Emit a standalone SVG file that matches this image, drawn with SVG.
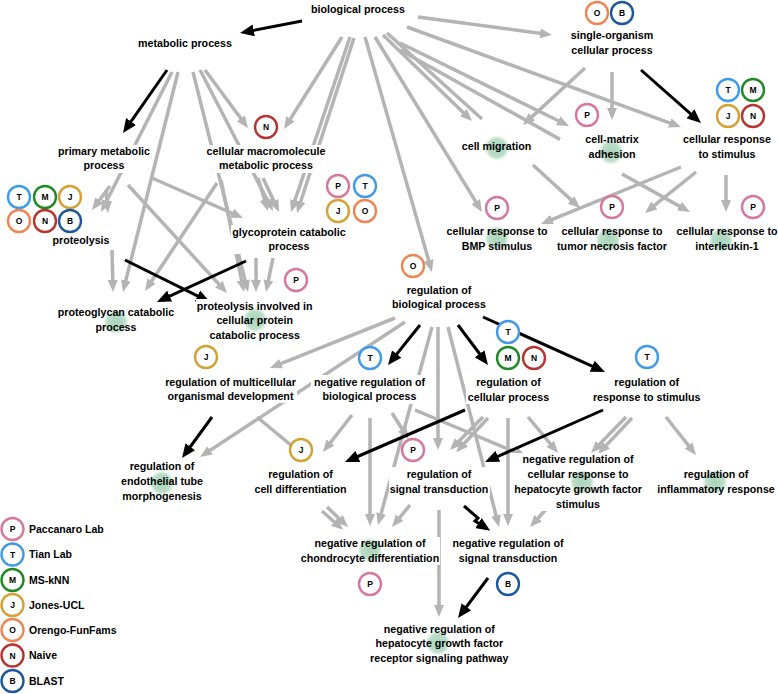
<svg xmlns="http://www.w3.org/2000/svg" width="778" height="694" viewBox="0 0 778 694">
<style>
.lbl{font-family:"Liberation Sans",Arial,sans-serif;font-weight:bold;font-size:10.7px;text-anchor:middle;fill:#000}
.leg{font-family:"Liberation Sans",Arial,sans-serif;font-weight:bold;font-size:10.5px;fill:#000}
.bg{fill:#fff}
.g{stroke:#b4b4b4;stroke-width:3.5;fill:none;marker-end:url(#ag)}
.gn{stroke:#b4b4b4;stroke-width:3.5;fill:none}
.k{stroke:#000;stroke-width:3;fill:none;marker-end:url(#ak)}
.c{fill:#fff;stroke-width:2.4}
.cl{font-family:"Liberation Sans",Arial,sans-serif;font-weight:bold;font-size:8.5px;text-anchor:middle;fill:#000}
.P{stroke:#d6779b}.T{stroke:#3d9be9}.M{stroke:#1f8a24}.J{stroke:#d6a032}.O{stroke:#ef8552}.N{stroke:#b8332f}.B{stroke:#1c569f}
.blob{fill:url(#gr)}
</style>
<defs>
<marker id="ag" viewBox="0 0 12 10" markerWidth="12" markerHeight="10" refX="7" refY="5" orient="auto" markerUnits="userSpaceOnUse"><path d="M0,0 L12,5 L0,10 z" fill="#b4b4b4"/></marker>
<marker id="ak" viewBox="0 0 14 12" markerWidth="14" markerHeight="12" refX="9" refY="6" orient="auto" markerUnits="userSpaceOnUse"><path d="M0,0 L14,6 L0,12 z" fill="#000"/></marker>
<radialGradient id="gr"><stop offset="0" stop-color="#a8d4ba" stop-opacity="1"/><stop offset="0.7" stop-color="#b4dac3" stop-opacity="0.9"/><stop offset="1" stop-color="#cde6d6" stop-opacity="0"/></radialGradient>
</defs>
<rect width="778" height="694" fill="#fff"/>
<g id="edges">
<line class="k" x1="302" y1="21" x2="244.9" y2="32.1"/>
<line class="g" x1="418" y1="17" x2="547" y2="34.3"/>
<line class="g" x1="342" y1="37" x2="286.7" y2="124.8"/>
<line class="g" x1="350" y1="37" x2="292.6" y2="207.3"/>
<line class="g" x1="354" y1="38" x2="298.5" y2="208.2"/>
<line class="g" x1="365" y1="37" x2="430.6" y2="267.2"/>
<line class="g" x1="375" y1="37" x2="479.4" y2="207.7"/>
<line class="g" x1="383" y1="35" x2="468.4" y2="117.5"/>
<line class="gn" x1="387" y1="33" x2="482" y2="119"/>
<line class="g" x1="533" y1="165" x2="576.3" y2="204.6"/>
<line class="g" x1="400" y1="43" x2="564.5" y2="123.8"/>
<line class="gn" x1="400" y1="50" x2="560" y2="139.4"/>
<line class="g" x1="622" y1="174" x2="685.6" y2="209.6"/>
<line class="g" x1="407" y1="27" x2="676.3" y2="125.3"/>
<line class="g" x1="585" y1="68" x2="526.7" y2="121.6"/>
<line class="g" x1="612" y1="72" x2="612" y2="115"/>
<line class="k" x1="641" y1="70" x2="697.2" y2="119.7"/>
<line class="g" x1="681" y1="167" x2="545.6" y2="222.1"/>
<line class="g" x1="696" y1="172" x2="648.9" y2="209.9"/>
<line class="g" x1="726" y1="175" x2="726" y2="207"/>
<line class="k" x1="167" y1="70" x2="125.9" y2="128.9"/>
<line class="g" x1="172" y1="72" x2="103.3" y2="207.5"/>
<line class="g" x1="178" y1="72" x2="124.2" y2="287.2"/>
<line class="g" x1="193" y1="72" x2="246.8" y2="287.2"/>
<line class="g" x1="200" y1="70" x2="270.7" y2="206.6"/>
<line class="g" x1="205" y1="70" x2="245" y2="124"/>
<line class="g" x1="128" y1="185" x2="223.6" y2="289.3"/>
<line class="g" x1="152" y1="178" x2="238.4" y2="216"/>
<line class="g" x1="217" y1="183" x2="147.8" y2="286.8"/>
<line class="g" x1="221" y1="180" x2="243" y2="287.1"/>
<line class="g" x1="258" y1="178" x2="266.5" y2="206.2"/>
<line class="g" x1="263" y1="178" x2="276.9" y2="207.5"/>
<line class="g" x1="110" y1="186" x2="95" y2="206"/>
<line class="g" x1="106" y1="190" x2="107.6" y2="208"/>
<line class="g" x1="256" y1="258" x2="256" y2="287"/>
<line class="g" x1="273" y1="258" x2="267" y2="287.1"/>
<line class="g" x1="112" y1="250" x2="112.9" y2="287"/>
<line class="k" x1="125" y1="260" x2="205.5" y2="299.8"/>
<line class="k" x1="246" y1="261" x2="161.5" y2="299.9"/>
<line class="g" x1="395" y1="318" x2="274.6" y2="366.1"/>
<line class="g" x1="405" y1="322" x2="204.2" y2="454.3"/>
<line class="k" x1="420" y1="325" x2="391.1" y2="361.1"/>
<line class="g" x1="432" y1="327" x2="379.3" y2="520.2"/>
<line class="g" x1="438" y1="327" x2="438" y2="445"/>
<line class="g" x1="448" y1="327" x2="497.8" y2="522.2"/>
<line class="k" x1="458" y1="325" x2="485" y2="361"/>
<line class="k" x1="483" y1="317" x2="600.4" y2="369.9"/>
<line class="g" x1="352" y1="415" x2="326.1" y2="448.1"/>
<line class="g" x1="370" y1="418" x2="370" y2="521"/>
<line class="g" x1="392" y1="413" x2="406" y2="435"/>
<line class="g" x1="415" y1="410" x2="522.4" y2="455.1"/>
<line class="k" x1="465" y1="410" x2="349.6" y2="460"/>
<line class="g" x1="483" y1="417" x2="453.5" y2="446.5"/>
<line class="g" x1="488" y1="418" x2="459.6" y2="448.5"/>
<line class="g" x1="508" y1="418" x2="508" y2="521"/>
<line class="g" x1="528" y1="417" x2="554.8" y2="449.2"/>
<line class="k" x1="603" y1="410" x2="489.6" y2="460"/>
<line class="g" x1="626" y1="417" x2="594.5" y2="449.4"/>
<line class="g" x1="632" y1="418" x2="601.5" y2="450.4"/>
<line class="g" x1="666" y1="417" x2="692.9" y2="451.1"/>
<line class="k" x1="212" y1="417" x2="185" y2="454"/>
<line class="gn" x1="257" y1="417" x2="292" y2="446"/>
<line class="g" x1="327" y1="507" x2="344.4" y2="523.5"/>
<line class="g" x1="322" y1="511" x2="339.4" y2="526.5"/>
<line class="g" x1="410" y1="505" x2="395.2" y2="523.1"/>
<line class="g" x1="439" y1="510" x2="439" y2="612"/>
<polyline class="k" points="464,506 478,518 475,521 486,528"/>
<line class="g" x1="550" y1="505" x2="533.4" y2="523.3"/>
<line class="k" x1="488" y1="578" x2="461" y2="614"/>
</g>
<g id="n-bio"><rect class="bg" x="310" y="2" width="97" height="14"/><text class="lbl" x="358" y="12.5">biological process</text></g>
<g id="n-metabolic"><rect class="bg" x="136" y="37" width="98" height="13"/><text class="lbl" x="185" y="46.8">metabolic process</text></g>
<g id="n-primary"><rect class="bg" x="56" y="145" width="95" height="28"/><text class="lbl"><tspan x="104" y="155.2">primary metabolic</tspan><tspan x="104" y="169.2">process</tspan></text></g>
<g id="n-macro"><rect class="bg" x="205" y="145" width="121" height="28"/><text class="lbl"><tspan x="266" y="155.2">cellular macromolecule</tspan><tspan x="266" y="169.2">metabolic process</tspan></text>
<circle class="c N" cx="266" cy="127" r="11"/><text class="cl" x="266" y="130.2">N</text></g>
<g id="n-proteolysis"><rect class="bg" x="51" y="234" width="59" height="13"/><text class="lbl" x="81" y="243.5">proteolysis</text>
<circle class="c T" cx="19" cy="197" r="11"/><text class="cl" x="19" y="200.2">T</text>
<circle class="c M" cx="45" cy="197" r="11"/><text class="cl" x="45" y="200.2">M</text>
<circle class="c J" cx="70" cy="197" r="11"/><text class="cl" x="70" y="200.2">J</text>
<circle class="c O" cx="19" cy="221" r="11"/><text class="cl" x="19" y="224.2">O</text>
<circle class="c N" cx="45" cy="221" r="11"/><text class="cl" x="45" y="224.2">N</text>
<circle class="c B" cx="70" cy="221" r="11"/><text class="cl" x="70" y="224.2">B</text></g>
<g id="n-single"><rect class="bg" x="569" y="28" width="85" height="29"/><text class="lbl"><tspan x="612" y="38.5">single-organism</tspan><tspan x="612" y="53.5">cellular process</tspan></text>
<circle class="c O" cx="597" cy="13" r="11"/><text class="cl" x="597" y="16.2">O</text>
<circle class="c B" cx="622" cy="13" r="11"/><text class="cl" x="622" y="16.2">B</text></g>
<g id="n-migration"><rect class="bg" x="460" y="140" width="73" height="13"/><circle class="blob" cx="497" cy="148" r="13"/><text class="lbl" x="496.5" y="150.2">cell migration</text></g>
<g id="n-matrix"><rect class="bg" x="583" y="133" width="56" height="28"/><circle class="blob" cx="611" cy="152" r="13"/><text class="lbl"><tspan x="612" y="142.8">cell-matrix</tspan><tspan x="612" y="157.5">adhesion</tspan></text>
<circle class="c P" cx="587" cy="115" r="11"/><text class="cl" x="587" y="118.2">P</text></g>
<g id="n-crs"><rect class="bg" x="682" y="133" width="91" height="28"/><text class="lbl"><tspan x="727" y="142.8">cellular response</tspan><tspan x="727" y="157.5">to stimulus</tspan></text>
<circle class="c T" cx="728" cy="90" r="11"/><text class="cl" x="728" y="93.2">T</text>
<circle class="c M" cx="753" cy="90" r="11"/><text class="cl" x="753" y="93.2">M</text>
<circle class="c J" cx="728" cy="116" r="11"/><text class="cl" x="728" y="119.2">J</text>
<circle class="c N" cx="753" cy="116" r="11"/><text class="cl" x="753" y="119.2">N</text></g>
<g id="n-bmp"><rect class="bg" x="445" y="225" width="104" height="29"/><circle class="blob" cx="497" cy="238" r="13"/><text class="lbl"><tspan x="497" y="235.2">cellular response to</tspan><tspan x="497" y="250.2">BMP stimulus</tspan></text>
<circle class="c P" cx="497" cy="208" r="11"/><text class="cl" x="497" y="211.2">P</text></g>
<g id="n-tnf"><rect class="bg" x="556" y="225" width="113" height="29"/><circle class="blob" cx="608" cy="240" r="13"/><text class="lbl"><tspan x="612" y="235.2">cellular response to</tspan><tspan x="612" y="250.2">tumor necrosis factor</tspan></text>
<circle class="c P" cx="612" cy="207" r="11"/><text class="cl" x="612" y="210.2">P</text></g>
<g id="n-il1"><rect class="bg" x="676" y="225" width="102" height="29"/><circle class="blob" cx="721" cy="240" r="13"/><text class="lbl"><tspan x="727" y="235.2">cellular response to</tspan><tspan x="727" y="250.2">interleukin-1</tspan></text>
<circle class="c P" cx="753" cy="207" r="11"/><text class="cl" x="753" y="210.2">P</text></g>
<g id="n-glyco"><rect class="bg" x="231" y="225" width="115" height="29"/><text class="lbl"><tspan x="289" y="235.5">glycoprotein catabolic</tspan><tspan x="289" y="250">process</tspan></text>
<circle class="c P" cx="338" cy="186" r="11"/><text class="cl" x="338" y="189.2">P</text>
<circle class="c T" cx="365" cy="186" r="11"/><text class="cl" x="365" y="189.2">T</text>
<circle class="c J" cx="338" cy="211" r="11"/><text class="cl" x="338" y="214.2">J</text>
<circle class="c O" cx="365" cy="211" r="11"/><text class="cl" x="365" y="214.2">O</text></g>
<g id="n-proteoglycan"><rect class="bg" x="56" y="306" width="119" height="28"/><circle class="blob" cx="116" cy="322" r="13"/><text class="lbl"><tspan x="116" y="316.2">proteoglycan catabolic</tspan><tspan x="116" y="330.8">process</tspan></text></g>
<g id="n-protinv"><rect class="bg" x="196" y="299" width="118" height="43"/><circle class="blob" cx="255" cy="320" r="13"/><text class="lbl"><tspan x="254.7" y="309.5">proteolysis involved in</tspan><tspan x="254.7" y="323.5">cellular protein</tspan><tspan x="254.7" y="338.5">catabolic process</tspan></text>
<circle class="c P" cx="296" cy="280" r="11"/><text class="cl" x="296" y="283.2">P</text></g>
<g id="n-regbio"><rect class="bg" x="391" y="283" width="97" height="28"/><text class="lbl"><tspan x="439" y="293.5">regulation of</tspan><tspan x="439" y="307.8">biological process</tspan></text>
<circle class="c O" cx="413" cy="266" r="11"/><text class="cl" x="413" y="269.2">O</text></g>
<g id="n-multi"><rect class="bg" x="164" y="375" width="133" height="28"/><text class="lbl"><tspan x="230.5" y="385.8">regulation of multicellular</tspan><tspan x="230.5" y="399.5">organismal development</tspan></text>
<circle class="c J" cx="206" cy="357" r="11"/><text class="cl" x="206" y="360.2">J</text></g>
<g id="n-negregbio"><rect class="bg" x="311" y="375" width="117" height="29"/><text class="lbl"><tspan x="369.5" y="385.8">negative regulation of</tspan><tspan x="369.5" y="400.2">biological process</tspan></text>
<circle class="c T" cx="370" cy="358" r="11"/><text class="cl" x="370" y="361.2">T</text></g>
<g id="n-regcell"><rect class="bg" x="466" y="375" width="85" height="29"/><text class="lbl"><tspan x="508.5" y="385.5">regulation of</tspan><tspan x="508.5" y="400.5">cellular process</tspan></text>
<circle class="c T" cx="508" cy="332" r="11"/><text class="cl" x="508" y="335.2">T</text>
<circle class="c M" cx="508" cy="358" r="11"/><text class="cl" x="508" y="361.2">M</text>
<circle class="c N" cx="534" cy="358" r="11"/><text class="cl" x="534" y="361.2">N</text></g>
<g id="n-regresp"><rect class="bg" x="592" y="375" width="109" height="29"/><text class="lbl"><tspan x="646.7" y="385.8">regulation of</tspan><tspan x="646.7" y="400.5">response to stimulus</tspan></text>
<circle class="c T" cx="647" cy="357" r="11"/><text class="cl" x="647" y="360.2">T</text></g>
<g id="n-endo"><rect class="bg" x="119" y="460" width="86" height="43"/><circle class="blob" cx="162" cy="483" r="13"/><text class="lbl"><tspan x="162" y="470.2">regulation of</tspan><tspan x="162" y="485.2">endothelial tube</tspan><tspan x="162" y="499.5">morphogenesis</tspan></text></g>
<g id="n-celldiff"><rect class="bg" x="252" y="467" width="96" height="29"/><text class="lbl"><tspan x="300.5" y="477.5">regulation of</tspan><tspan x="300.5" y="492.5">cell differentiation</tspan></text>
<circle class="c J" cx="301" cy="450" r="11"/><text class="cl" x="301" y="453.2">J</text></g>
<g id="n-sigtrans"><rect class="bg" x="389" y="467" width="101" height="29"/><text class="lbl"><tspan x="439" y="477.5">regulation of</tspan><tspan x="439" y="492.5">signal transduction</tspan></text>
<circle class="c P" cx="413" cy="450" r="11"/><text class="cl" x="413" y="453.2">P</text></g>
<g id="n-hgfstim"><rect class="bg" x="512" y="453" width="131" height="58"/><circle class="blob" cx="582" cy="482" r="13"/><text class="lbl"><tspan x="578" y="462.8">negative regulation of</tspan><tspan x="578" y="477.8">cellular response to</tspan><tspan x="578" y="492.8">hepatocyte growth factor</tspan><tspan x="578" y="507.8">stimulus</tspan></text></g>
<g id="n-inflam"><rect class="bg" x="655" y="467" width="122" height="29"/><circle class="blob" cx="715" cy="482" r="13"/><text class="lbl"><tspan x="716" y="477.8">regulation of</tspan><tspan x="716" y="492.8">inflammatory response</tspan></text></g>
<g id="n-chondro"><rect class="bg" x="299" y="537" width="141" height="28"/><circle class="blob" cx="370" cy="550" r="13"/><text class="lbl"><tspan x="370" y="546.8">negative regulation of</tspan><tspan x="370" y="561.8">chondrocyte differentiation</tspan></text>
<circle class="c P" cx="370" cy="584" r="11"/><text class="cl" x="370" y="587.2">P</text></g>
<g id="n-negsig"><rect class="bg" x="451" y="537" width="114" height="28"/><text class="lbl"><tspan x="508" y="546.8">negative regulation of</tspan><tspan x="508" y="561.8">signal transduction</tspan></text>
<circle class="c B" cx="508" cy="584" r="11"/><text class="cl" x="508" y="587.2">B</text></g>
<g id="n-hgfrec"><rect class="bg" x="369" y="622" width="141" height="43"/><circle class="blob" cx="438" cy="643" r="13"/><text class="lbl"><tspan x="439.3" y="632.5">negative regulation of</tspan><tspan x="439.3" y="646.8">hepatocyte growth factor</tspan><tspan x="439.3" y="661.8">receptor signaling pathway</tspan></text></g>
<g id="legend">
<circle class="c P" cx="12.5" cy="529" r="11"/><text class="cl" x="12.5" y="532.2">P</text><text class="leg" x="29" y="532.8">Paccanaro Lab</text>
<circle class="c T" cx="12.5" cy="554.5" r="11"/><text class="cl" x="12.5" y="557.7">T</text><text class="leg" x="29" y="558.3">Tian Lab</text>
<circle class="c M" cx="12.5" cy="580" r="11"/><text class="cl" x="12.5" y="583.2">M</text><text class="leg" x="29" y="583.8">MS-kNN</text>
<circle class="c J" cx="12.5" cy="605" r="11"/><text class="cl" x="12.5" y="608.2">J</text><text class="leg" x="29" y="608.8">Jones-UCL</text>
<circle class="c O" cx="12.5" cy="630" r="11"/><text class="cl" x="12.5" y="633.2">O</text><text class="leg" x="29" y="633.8">Orengo-FunFams</text>
<circle class="c N" cx="12.5" cy="655.5" r="11"/><text class="cl" x="12.5" y="658.7">N</text><text class="leg" x="29" y="659.3">Naive</text>
<circle class="c B" cx="12.5" cy="681" r="11"/><text class="cl" x="12.5" y="684.2">B</text><text class="leg" x="29" y="684.8">BLAST</text>
</g>
</svg>
